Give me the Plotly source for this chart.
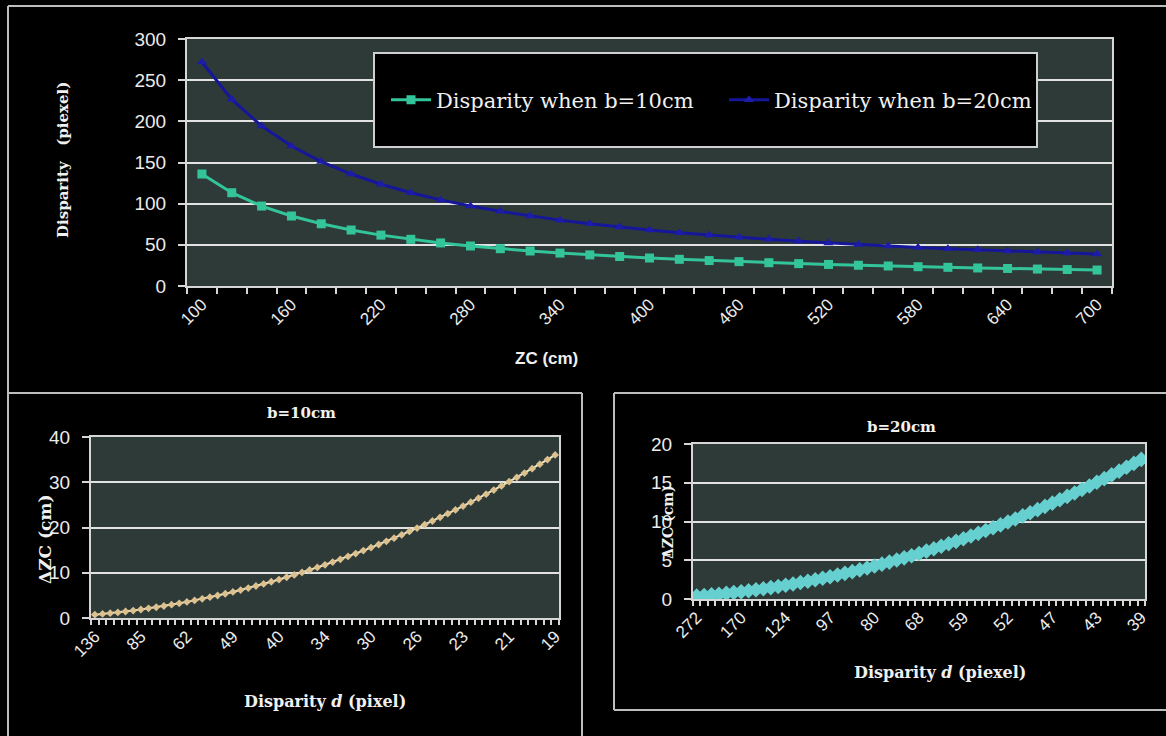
import plotly.graph_objects as go

# ---------------- data ----------------
# Top chart: distance ZC (cm) vs disparity (pixel)
zc_top = [100, 120, 140, 160, 180, 200, 220, 240, 260, 280, 300, 320, 340, 360, 380, 400,
          420, 440, 460, 480, 500, 520, 540, 560, 580, 600, 620, 640, 660, 680, 700]
disp_b10 = [136.0, 113.3, 97.1, 85.0, 75.6, 68.0, 61.8, 56.7, 52.3, 48.6, 45.3, 42.5, 40.0, 37.8,
            35.8, 34.0, 32.4, 30.9, 29.6, 28.3, 27.2, 26.2, 25.2, 24.3, 23.4, 22.7, 21.9, 21.3,
            20.6, 20.0, 19.4]
disp_b20 = [272.0, 226.7, 194.3, 170.0, 151.1, 136.0, 123.6, 113.3, 104.6, 97.1, 90.7, 85.0, 80.0,
            75.6, 71.6, 68.0, 64.8, 61.8, 59.1, 56.7, 54.4, 52.3, 50.4, 48.6, 46.9, 45.3, 43.9,
            42.5, 41.2, 40.0, 38.9]
top_ticks = [100, 160, 220, 280, 340, 400, 460, 520, 580, 640, 700]

# Bottom charts: disparity d (pixel) categories and depth resolution dZC (cm)
d_b10 = ["136", "124", "113", "105", "97", "91", "85", "80", "76", "72", "68", "65", "62", "59",
         "57", "54", "52", "50", "49", "47", "45", "44", "43", "41", "40", "39", "38", "37", "36",
         "35", "34", "33", "32", "32", "31", "30", "30", "29", "28", "28", "27", "27", "26", "26",
         "25", "25", "24", "24", "23", "23", "23", "22", "22", "22", "21", "21", "21", "20", "20",
         "20", "19"]
dz_b10 = [0.74, 0.89, 1.06, 1.24, 1.44, 1.65, 1.88, 2.13, 2.38, 2.65, 2.94, 3.24, 3.56, 3.89,
          4.24, 4.60, 4.97, 5.36, 5.76, 6.18, 6.62, 7.07, 7.53, 8.01, 8.50, 9.01, 9.53, 10.07,
          10.62, 11.18, 11.76, 12.36, 12.97, 13.60, 14.24, 14.89, 15.56, 16.24, 16.94, 17.65,
          18.38, 19.13, 19.88, 20.65, 21.44, 22.24, 23.06, 23.89, 24.74, 25.60, 26.47, 27.36,
          28.26, 29.18, 30.12, 31.07, 32.03, 33.01, 34.00, 35.01, 36.03]
d_b20 = ["272", "247", "227", "209", "194", "181", "170", "160", "151", "143", "136", "130",
         "124", "118", "113", "109", "105", "101", "97", "94", "91", "88", "85", "82", "80", "78",
         "76", "74", "72", "70", "68", "66", "65", "63", "62", "60", "59", "58", "57", "56", "54",
         "53", "52", "51", "50", "49", "49", "48", "47", "46", "45", "45", "44", "43", "43", "42",
         "41", "41", "40", "39", "39"]
dz_b20 = [0.37, 0.44, 0.53, 0.62, 0.72, 0.83, 0.94, 1.06, 1.19, 1.33, 1.47, 1.62, 1.78, 1.94,
          2.12, 2.30, 2.49, 2.68, 2.88, 3.09, 3.31, 3.53, 3.76, 4.00, 4.25, 4.50, 4.76, 5.03,
          5.31, 5.59, 5.88, 6.18, 6.49, 6.80, 7.12, 7.44, 7.78, 8.12, 8.47, 8.83, 9.19, 9.56,
          9.94, 10.33, 10.72, 11.12, 11.53, 11.95, 12.37, 12.80, 13.24, 13.68, 14.13, 14.59,
          15.06, 15.53, 16.01, 16.50, 17.00, 17.50, 18.01]
label_step = 6

# ---------------- figure ----------------
W, H = 1166, 736
def px(x):
    return x / W
def py(y):
    return 1 - y / H

SERIF = "DejaVu Serif"
SANS = "Liberation Sans"
AX = "#d6d6d6"
TXT = "#ececec"
GRID = "#e2e2e2"

fig = go.Figure()

fig.add_trace(go.Scatter(
    x=zc_top, y=disp_b10, name="Disparity when b=10cm", mode="lines+markers",
    line=dict(color="#33c49a", width=3), marker=dict(symbol="square", size=9, color="#33c49a"),
    xaxis="x", yaxis="y"))
fig.add_trace(go.Scatter(
    x=zc_top, y=disp_b20, name="Disparity when b=20cm", mode="lines+markers",
    line=dict(color="#16169a", width=3), marker=dict(symbol="triangle-up", size=9, color="#1c1ca8"),
    xaxis="x", yaxis="y"))

idx10 = list(range(len(dz_b10)))
fig.add_trace(go.Scatter(
    x=idx10, y=dz_b10, mode="lines+markers", showlegend=False,
    line=dict(color="#efe6c6", width=2), marker=dict(symbol="diamond", size=6, color="#dcc08e"),
    xaxis="x2", yaxis="y2"))
idx20 = list(range(len(dz_b20)))
fig.add_trace(go.Scatter(
    x=idx20, y=dz_b20, mode="lines+markers", showlegend=False,
    line=dict(color="#6dd6d6", width=3), marker=dict(symbol="diamond", size=12, color="#66d0d0"),
    xaxis="x3", yaxis="y3"))

common_axis = dict(showline=True, mirror=True, linecolor=AX, linewidth=2, zeroline=False,
                   automargin=False)
ytick_font = dict(family=SANS, size=19, color=TXT)
xtick_font = dict(family=SANS, size=17, color=TXT)

fig.update_layout(
    template="none",
    width=W, height=H, margin=dict(l=0, r=0, t=0, b=0, pad=0, autoexpand=False),
    paper_bgcolor="black", plot_bgcolor="#2e3a38",
    showlegend=True,
    legend=dict(orientation="h", x=px(386), xanchor="left", y=py(100), yanchor="middle",
                bgcolor="rgba(0,0,0,0)", font=dict(family=SERIF, size=21, color="#f0f0f0"),
                entrywidth=283, entrywidthmode="pixels", itemwidth=40, borderwidth=0),
    xaxis=dict(domain=[px(187), px(1112)], anchor="y", range=[90, 710],
               tickmode="array", tickvals=top_ticks, ticks="", tickangle=-45,
               tickfont=xtick_font, showgrid=False,
               minor=dict(tickmode="linear", tick0=90, dtick=20, ticks="outside", ticklen=6,
                          tickcolor=AX, tickwidth=2, showgrid=False),
               **common_axis),
    yaxis=dict(domain=[py(286), py(39)], anchor="x", range=[0, 300], dtick=50,
               ticks="outside", ticklen=7, tickcolor=AX, tickwidth=2, tickfont=ytick_font,
               showgrid=True, gridcolor=GRID, gridwidth=2, ticklabelstandoff=8,
               **common_axis),
    xaxis2=dict(domain=[px(91), px(559)], anchor="y2", range=[-0.5, len(dz_b10) - 0.5],
                tickmode="array", tickvals=idx10[::label_step], ticktext=d_b10[::label_step],
                ticks="", tickangle=-45, tickfont=xtick_font, showgrid=False,
                minor=dict(tickmode="linear", tick0=-0.5, dtick=1, ticks="outside", ticklen=5,
                           tickcolor=AX, tickwidth=2, showgrid=False),
                **common_axis),
    yaxis2=dict(domain=[py(618), py(437)], anchor="x2", range=[0, 40], dtick=10,
                ticks="outside", ticklen=7, tickcolor=AX, tickwidth=2, tickfont=ytick_font,
                showgrid=True, gridcolor=GRID, gridwidth=2, ticklabelstandoff=8,
                **common_axis),
    xaxis3=dict(domain=[px(693), px(1145)], anchor="y3", range=[-0.5, len(dz_b20) - 0.5],
                tickmode="array", tickvals=idx20[::label_step], ticktext=d_b20[::label_step],
                ticks="", tickangle=-45, tickfont=xtick_font, showgrid=False,
                minor=dict(tickmode="linear", tick0=-0.5, dtick=1, ticks="outside", ticklen=5,
                           tickcolor=AX, tickwidth=2, showgrid=False),
                **common_axis),
    yaxis3=dict(domain=[py(599), py(444)], anchor="x3", range=[0, 20], dtick=5,
                ticks="outside", ticklen=7, tickcolor=AX, tickwidth=2, tickfont=ytick_font,
                showgrid=True, gridcolor=GRID, gridwidth=2, ticklabelstandoff=8,
                **common_axis),
)

# panel borders and legend box
BORDER = "#bdbdbd"
def hline(x0, x1, y):
    fig.add_shape(type="line", xref="paper", yref="paper", x0=px(x0), x1=px(x1), y0=py(y), y1=py(y),
                  line=dict(color=BORDER, width=2))
def vline(x, y0, y1):
    fig.add_shape(type="line", xref="paper", yref="paper", x0=px(x), x1=px(x), y0=py(y0), y1=py(y1),
                  line=dict(color=BORDER, width=2))

vline(8, 6, 736)
hline(8, 1166, 6)
hline(8, 582, 393)
vline(582, 393, 736)
vline(614, 393, 710)
hline(614, 1166, 393)
hline(614, 1166, 710)

fig.add_shape(type="rect", xref="paper", yref="paper", x0=px(374), x1=px(1037), y0=py(147), y1=py(53),
              fillcolor="black", line=dict(color="#cfcfcf", width=2), layer="above")

# titles
def note(text, x, y, size, family=SERIF, angle=0):
    fig.add_annotation(text=text, xref="paper", yref="paper", x=px(x), y=py(y),
                       xanchor="center", yanchor="middle", showarrow=False, textangle=angle,
                       font=dict(family=family, size=size, color="#f0f0f0"))

note("<b>Disparity\u00a0\u00a0\u00a0(piexel)</b>", 63, 160, 15, angle=-90)
note("<b>ZC (cm)</b>", 546, 358, 17, family=SANS)
note("<b>b=10cm</b>", 301, 413, 15)
note("<b>ΔZC (cm)</b>", 45, 540, 17, angle=-90)
note("<b>Disparity <i>d</i> (pixel)</b>", 325, 701, 16)
note("<b>b=20cm</b>", 901, 427, 15)
note("<b>ΔZC (cm)</b>", 668, 522, 14, angle=-90)
note("<b>Disparity <i>d</i> (piexel)</b>", 940, 672, 16)

fig.write_html("out.html", config={"displayModeBar": False},
               post_script="document.body.style.margin='0';document.body.style.padding='0';")
